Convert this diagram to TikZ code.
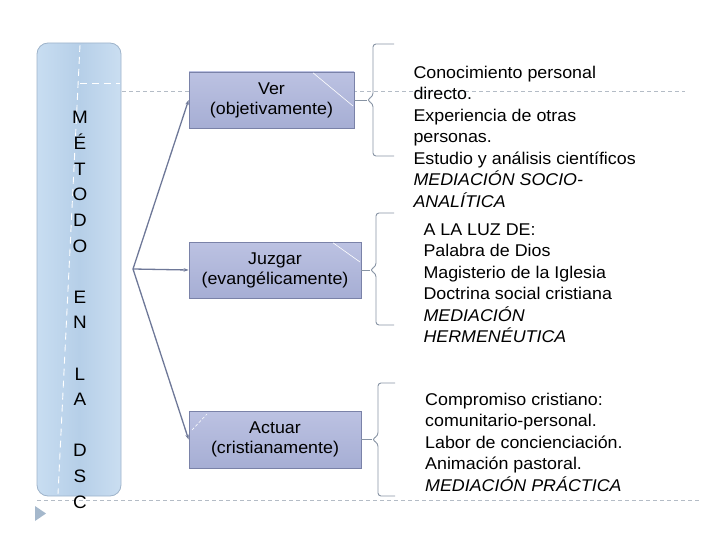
\documentclass[tikz,border=0pt]{standalone}
\usepackage{fontspec}
\setmainfont{Liberation Sans}[FakeStretch=1.05]
\usetikzlibrary{arrows.meta}
\definecolor{colL}{HTML}{C8DDF1}
\definecolor{colM}{HTML}{B6CFE8}
\definecolor{colR}{HTML}{CADEF1}
\definecolor{colBorder}{HTML}{9EB3CA}
\definecolor{boxTop}{HTML}{BCC2E2}
\definecolor{boxBot}{HTML}{A6AED4}
\definecolor{boxBorder}{HTML}{7A82A8}
\definecolor{connCol}{HTML}{6E7898}
\definecolor{braceCol}{HTML}{8894A4}
\definecolor{dashCol}{HTML}{B4BCC6}
\definecolor{triCol}{HTML}{A5B8CC}
\newcommand\mybrace[6]{% tipx, vx, endx, top, mid, bot
  \draw[bracestyle] (#3,#4) -- (#2,#4) -- (#2,#5-4) -- (#1,#5) -- (#2,#5+4) -- (#2,#6) -- (#3,#6);}
\begin{document}
\begin{tikzpicture}[x=1pt,y=-1pt,
  stepbox/.style={draw=boxBorder, line width=0.8pt, top color=boxTop, bottom color=boxBot,
    align=center, font=\fontsize{17}{20}\selectfont, inner sep=0pt},
  conn/.style={draw=connCol, line width=1.3pt, -{Stealth[length=5pt,width=3.5pt]}},
  bracestyle/.style={draw=braceCol, line width=0.9pt, rounded corners=3pt},
  graydash/.style={draw=dashCol, line width=0.8pt, dash pattern=on 4pt off 3pt},
  txt/.style={align=left, font=\fontsize{17}{21.5}\selectfont, inner sep=0pt, anchor=north west},
  letter/.style={font=\fontsize{18}{20}\selectfont, inner sep=0pt, anchor=base}]
\useasboundingbox (0,0) rectangle (720,540);
% left column
\path[draw=colBorder, line width=0.8pt, rounded corners=11pt, left color=colL, right color=colR, middle color=colM]
  (37,43) rectangle (121,496);
\draw[white, line width=0.9pt, dash pattern=on 7pt off 5pt] (80,45) -- (58,494);
\draw[white, line width=0.9pt, dash pattern=on 7pt off 5pt] (80,83) -- (120,83);
% template dashed lines
\draw[graydash] (122,91) -- (685,91);
\draw[graydash] (37,500) -- (700,500);
\fill[triCol] (35,506) -- (46,513.5) -- (35,521) -- cycle;
% letters
\foreach \l/\k in {M/0,É/1,T/2,O/3,D/4,O/5,E/7,N/8,L/10,A/11,D/13,S/14,C/15}
  \node[letter] (L\k) at (80,{124+25.6*\k}) {\l};
% boxes
\node[stepbox, minimum width=165pt, minimum height=56pt] (ver) at (271.5,100) {Ver\\(objetivamente)};
\node[stepbox, minimum width=172pt, minimum height=56pt] (juz) at (275,270) {Juzgar\\(evangélicamente)};
\node[stepbox, minimum width=172pt, minimum height=57pt] (act) at (275,439.5) {Actuar\\(cristianamente)};
\draw[white, line width=0.6pt] (313,72.8) -- (353,106);
\draw[white, line width=0.6pt] (333,242.8) -- (360,262);
\draw[white, line width=0.6pt, dash pattern=on 3pt off 2pt] (192,430) -- (207,414);
% connectors
\coordinate (o) at (133,269);
\draw[conn] (o) -- (ver.west);
\draw[conn] (o) -- (juz.west);
\draw[conn] (o) -- (act.west);
% braces
\coordinate (b1) at (367,100);
\coordinate (b2) at (370,270);
\coordinate (b3) at (372,439.5);
\draw[draw=braceCol, line width=0.9pt] (ver.east) -- (b1);
\draw[draw=braceCol, line width=0.9pt] (juz.east) -- (b2);
\draw[draw=braceCol, line width=0.9pt] (act.east) -- (b3);
\mybrace{367}{373}{394}{44}{100}{156}
\mybrace{370}{376}{394}{213}{270}{325}
\mybrace{372}{378}{395}{383}{439.5}{496}
% texts
\node[txt] (t1) at (413.3,65.3) {\rule{0pt}{13pt}Conocimiento personal\\directo.\\Experiencia de otras\\personas.\\Estudio y análisis científicos\\\textit{MEDIACIÓN SOCIO-}\\\textit{ANALÍTICA}};
\node[txt] (t2) at (423.3,222) {\rule{0pt}{13pt}A LA LUZ DE:\\Palabra de Dios\\Magisterio de la Iglesia\\Doctrina social cristiana\\\textit{MEDIACIÓN}\\\textit{HERMENÉUTICA}};
\node[txt] (t3) at (425,392) {\rule{0pt}{13pt}Compromiso cristiano:\\comunitario-personal.\\Labor de concienciación.\\Animación pastoral.\\\textit{MEDIACIÓN PRÁCTICA}};
\end{tikzpicture}
\end{document}
